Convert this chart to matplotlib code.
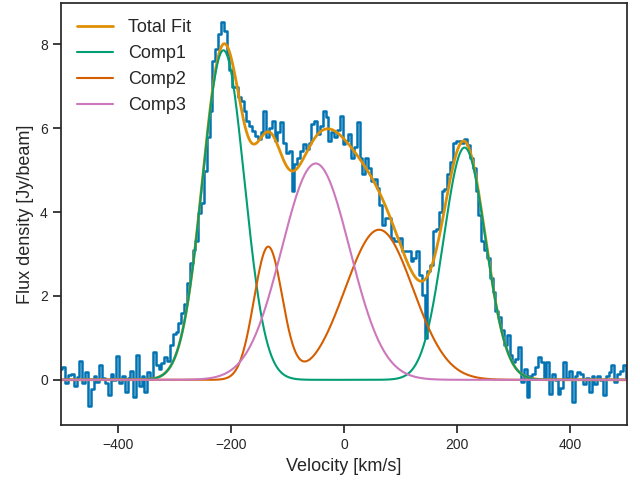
import numpy as np
import matplotlib
matplotlib.use("Agg")
import matplotlib.pyplot as plt
import seaborn as sns

# Observed spectrum (5 km/s channels)
velocity = np.arange(-500, 505, 5)
flux = [
    0.25, 0.31, -0.07, 0.12, 0.15, -0.15, 0.07, 0.46, -0.07, 0.19,
    -0.62, -0.23, 0.10, -0.05, 0.35, 0.05, -0.07, -0.37, 0.15, 0.00,
    0.57, -0.07, 0.10, -0.30, 0.05, 0.20, -0.41, 0.60, -0.15, 0.10,
    -0.30, 0.19, 0.05, 0.67, 0.35, 0.27, 0.40, 0.55, 0.45, 0.83,
    1.10, 1.15, 1.35, 1.60, 1.80, 2.30, 2.79, 3.10, 3.30, 3.98,
    4.22, 4.98, 5.78, 6.42, 7.60, 7.90, 8.25, 8.53, 8.33, 7.77,
    7.40, 6.98, 6.98, 6.74, 6.66, 6.40, 6.18, 6.05, 5.94, 5.82,
    5.75, 5.90, 6.42, 5.78, 6.00, 6.18, 5.70, 5.90, 6.14, 5.66,
    5.40, 5.46, 4.50, 5.14, 5.30, 5.46, 5.62, 5.50, 5.65, 6.10,
    6.18, 5.86, 6.05, 6.42, 6.26, 5.70, 5.90, 5.78, 5.95, 6.30,
    5.62, 5.70, 5.86, 5.30, 5.55, 6.14, 5.30, 4.90, 5.30, 5.06,
    4.74, 4.80, 4.58, 4.18, 3.70, 3.86, 3.86, 3.38, 3.30, 3.30,
    3.38, 3.07, 3.07, 3.07, 2.83, 2.90, 3.07, 2.50, 2.03, 0.99,
    2.59, 2.74, 3.54, 3.60, 4.00, 4.50, 4.55, 4.90, 5.20, 5.66,
    5.70, 5.70, 5.65, 5.74, 5.60, 5.30, 5.06, 4.50, 3.94, 3.30,
    3.10, 2.90, 2.42, 2.10, 1.63, 1.50, 1.20, 0.83, 1.07, 0.60,
    0.43, 0.50, 0.79, -0.05, 0.27, -0.40, 0.10, 0.15, 0.30, 0.55,
    0.43, 0.05, 0.43, -0.33, 0.15, 0.00, -0.33, -0.20, 0.43, 0.05,
    0.20, -0.53, 0.10, 0.19, 0.15, -0.10, 0.05, -0.29, 0.10, -0.10,
    0.10, 0.00, -0.37, 0.10, 0.19, 0.35, -0.05, 0.15, 0.20, 0.35,
    0.05,
]

# Gaussian fit parameters: (amplitude, centre km/s, sigma km/s)
comp1_params = [(7.86, -213.0, 37.0), (5.54, 213.0, 37.0)]
comp2_params = [(3.16, -134.0, 25.0), (3.58, 62.0, 60.0)]
comp3_params = [(5.16, -50.0, 60.0)]

labels = ["Total Fit", "Comp1", "Comp2", "Comp3"]

sns.set_theme(style="ticks", context="notebook")
plt.rcParams['font.family'] = ['Liberation Sans', 'DejaVu Sans']

pal = sns.color_palette("colorblind")

def model(v, params):
    out = np.zeros_like(v, dtype=float)
    for a, mu, s in params:
        out += a * np.exp(-(v - mu) ** 2 / (2 * s ** 2))
    return out

vfine = np.linspace(-500, 500, 2001)
c1 = model(vfine, comp1_params)
c2 = model(vfine, comp2_params)
c3 = model(vfine, comp3_params)
total = c1 + c2 + c3

fig, ax = plt.subplots(figsize=(6.4, 4.8), dpi=100)
ax.step(velocity, flux, where="mid", color=pal[0], lw=1.8)
ax.plot(vfine, total, color=pal[1], lw=2, label=labels[0])
ax.plot(vfine, c1, color=pal[2], lw=1.5, label=labels[1])
ax.plot(vfine, c2, color=pal[3], lw=1.5, label=labels[2])
ax.plot(vfine, c3, color=pal[4], lw=1.5, label=labels[3])

ax.set_xlim(-500, 500)
ax.set_xlabel("Velocity [km/s]", fontsize=13)
ax.set_ylabel("Flux density [Jy/beam]", fontsize=13)
ax.tick_params(labelsize=10)
ax.legend(loc="upper left", frameon=False, fontsize=13)
fig.subplots_adjust(left=61/640, right=627/640, top=1-3/480, bottom=1-425/480)
fig.savefig("out.png", dpi=100)
